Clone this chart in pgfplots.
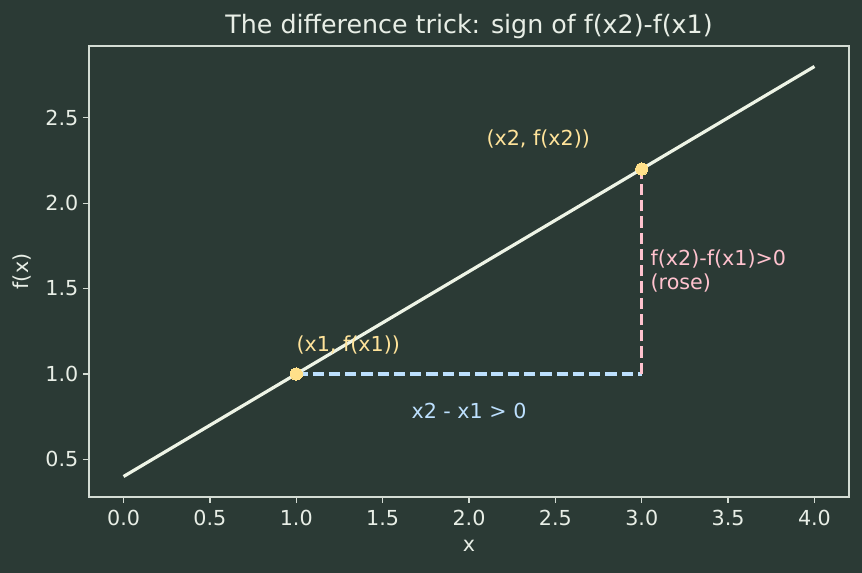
\documentclass[border=0pt]{standalone}
\usepackage{fontspec}
\setmainfont{DejaVu Sans}
\usepackage{pgfplots}
\pgfplotsset{compat=1.18}
\definecolor{bg}{HTML}{2B3A35}
\definecolor{fg}{HTML}{E8EEE6}
\definecolor{spine}{HTML}{D4DCD4}
\definecolor{linec}{HTML}{EEF4E6}
\definecolor{ptc}{HTML}{FFE08A}
\definecolor{ylab}{HTML}{FFE39A}
\definecolor{bluec}{HTML}{BDE0FE}
\definecolor{pinkc}{HTML}{FFC2CE}
\begin{document}
\begin{tikzpicture}[x=0.75pt,y=0.75pt]
\fill[bg] (0,0) rectangle (862,573);
\begin{axis}[
  at={(89*0.75pt,76*0.75pt)}, anchor=south west,
  scale only axis, width=570pt, height=338.25pt,
  xmin=-0.2, xmax=4.2, ymin=0.28, ymax=2.92,
  xtick={0,0.5,1,1.5,2,2.5,3,3.5,4},
  ytick={0.5,1,1.5,2,2.5},
  xticklabel style={yshift=-2pt,/pgf/number format/.cd,fixed,fixed zerofill,precision=1},
  yticklabel style={/pgf/number format/.cd,fixed,fixed zerofill,precision=1},
  /pgf/number format/assume math mode=true,
  axis line style={spine, line width=0.9pt},
  tick style={spine, line width=0.9pt},
  tick align=outside, major tick length=4.5pt,
  xtick pos=bottom, ytick pos=left,
  ticklabel style={font=\fontsize{15.5}{18}\selectfont, text=fg},
  label style={font=\fontsize{15.5}{18}\selectfont, text=fg},
  xlabel={x}, ylabel={f(x)},
  xlabel style={yshift=-4pt}, ylabel style={yshift=4pt},
  title={The difference trick: sign of f(x2)-f(x1)},
  title style={font=\fontsize{19}{22}\selectfont, text=fg, yshift=-4pt},
  clip=false,
]
\addplot[linec, line width=2.4pt] coordinates {(0,0.4) (4,2.8)};
\addplot[bluec, line width=2.4pt, dash pattern=on 8.5pt off 3.7pt] coordinates {(1,1) (3,1)};
\addplot[pinkc, line width=2.4pt, dash pattern=on 8.5pt off 3.7pt] coordinates {(3,1) (3,2.2)};
\addplot[ptc, only marks, mark=*, mark size=4.6pt, mark options={fill=ptc, draw=ptc, line width=0pt}] coordinates {(1,1) (3,2.2)};
\node[anchor=base west, text=ylab, font=\fontsize{15.5}{18}\selectfont, inner sep=0pt] at (axis cs:1,1.13) {(x1, f(x1))};
\node[anchor=base west, text=ylab, font=\fontsize{15.5}{18}\selectfont, inner sep=0pt] at (axis cs:2.1,2.34) {(x2, f(x2))};
\node[anchor=center, text=bluec, font=\fontsize{15.5}{18}\selectfont, inner sep=0pt] at (axis cs:2,0.785) {x2 - x1 > 0};
\node[anchor=west, text=pinkc, font=\fontsize{15.5}{18}\selectfont, inner sep=0pt, align=left] at (axis cs:3.05,1.6) {f(x2)-f(x1)>0\\(rose)};
\end{axis}
\end{tikzpicture}
\end{document}
